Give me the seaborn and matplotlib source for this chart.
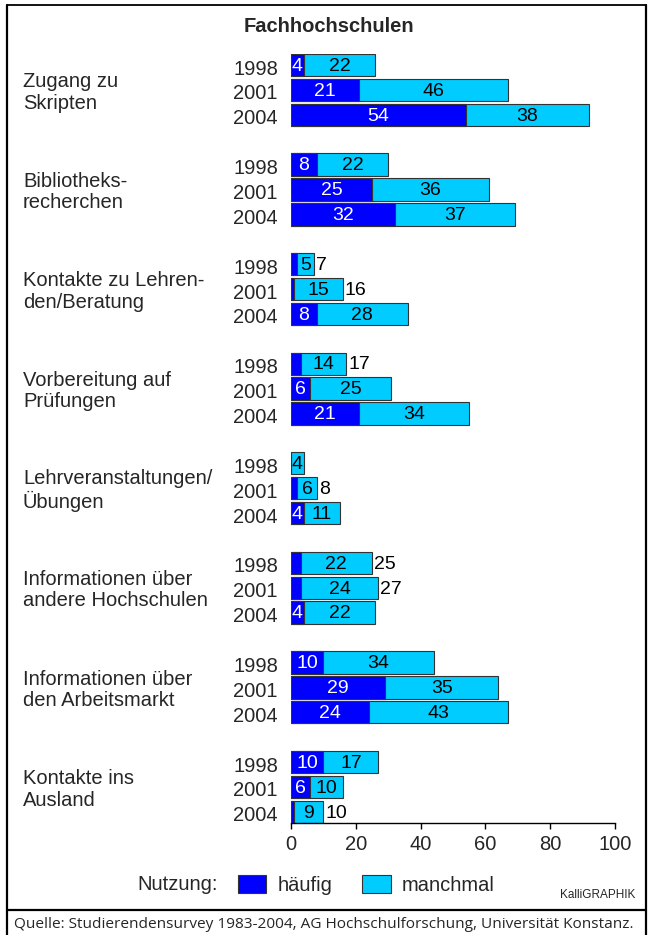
import pandas as pd
import matplotlib.pyplot as plt
import matplotlib.transforms as mtransforms
from matplotlib.lines import Line2D
from matplotlib.patches import Patch
import seaborn as sns

# values (percent)
categories = [
    "Zugang zu\nSkripten",
    "Bibliotheks-\nrecherchen",
    "Kontakte zu Lehren-\nden/Beratung",
    "Vorbereitung auf\nPrüfungen",
    "Lehrveranstaltungen/\nÜbungen",
    "Informationen über\nandere Hochschulen",
    "Informationen über\nden Arbeitsmarkt",
    "Kontakte ins\nAusland",
]
years = ["1998", "2001", "2004"]
haeufig = [
    [4, 21, 54],
    [8, 25, 32],
    [2, 1, 8],
    [3, 6, 21],
    [0, 2, 4],
    [3, 3, 4],
    [10, 29, 24],
    [10, 6, 1],
]
manchmal = [
    [22, 46, 38],
    [22, 36, 37],
    [5, 15, 28],
    [14, 25, 34],
    [4, 6, 11],
    [22, 24, 22],
    [34, 35, 43],
    [17, 10, 9],
]

BLUE = "#0000FF"
CYAN = "#00CCFF"
EDGE = "#333333"
FS = 14.5
FS_NUM = 14


def build_frame():
    rows = []
    for g, cat in enumerate(categories):
        for i, yr in enumerate(years):
            h = haeufig[g][i]
            m = manchmal[g][i]
            rows.append({"cat": cat, "year": yr, "pos": g * 4 + i,
                         "haeufig": h, "manchmal": m, "gesamt": h + m})
    return pd.DataFrame(rows)


def main():
    sns.set_style("white")
    plt.rcParams["font.family"] = ["Liberation Sans", "DejaVu Sans"]
    df = build_frame()

    fig = plt.figure(figsize=(6.51, 9.35), dpi=100)
    ax = fig.add_axes([291 / 651, (935 - 823) / 935, 324 / 651, 769.2 / 935])

    sns.barplot(data=df, x="gesamt", y="pos", orient="y", native_scale=True,
                color=CYAN, saturation=1, width=0.9, errorbar=None,
                edgecolor=EDGE, linewidth=0.8, ax=ax)
    sns.barplot(data=df, x="haeufig", y="pos", orient="y", native_scale=True,
                color=BLUE, saturation=1, width=0.9, errorbar=None,
                edgecolor=EDGE, linewidth=0.8, ax=ax)

    ax.set_xlim(0, 100)
    ax.set_ylim(30.45, -0.45)
    ax.set_xticks(range(0, 101, 20))
    ax.set_yticks(df["pos"], df["year"])
    ax.set_xlabel("")
    ax.set_ylabel("")
    for s in ["left", "right", "top"]:
        ax.spines[s].set_visible(False)
    ax.spines["bottom"].set_color("black")
    ax.spines["bottom"].set_linewidth(1)
    ax.tick_params(axis="x", direction="out", length=4, width=1, color="black",
                   labelsize=FS, pad=5, bottom=True)
    ax.tick_params(axis="y", length=0, labelsize=FS, pad=9.4)
    shift = mtransforms.ScaledTranslation(0, -2 / 100, fig.dpi_scale_trans)
    for lab in ax.get_yticklabels():
        lab.set_transform(lab.get_transform() + shift)

    for _, r in df.iterrows():
        h, m, p = r["haeufig"], r["manchmal"], r["pos"]
        if h >= 4:
            ax.text(h / 2, p + 0.05, str(h), ha="center", va="center",
                    color="white", fontsize=FS_NUM)
        ax.text(h + m / 2, p + 0.05, str(m), ha="center", va="center",
                color="black", fontsize=FS_NUM)
        if 0 < h < 4:
            ax.text(h + m + 0.6, p + 0.05, str(h + m), ha="left", va="center",
                    color="black", fontsize=FS_NUM)

    trans = mtransforms.blended_transform_factory(fig.transFigure, ax.transData)
    for g, cat in enumerate(categories):
        ax.text(23 / 651, g * 4 + 1.1, cat, transform=trans, ha="left",
                va="center", fontsize=FS, linespacing=1.15)

    fig.text(329 / 651, (935 - 27) / 935, "Fachhochschulen", ha="center",
             va="center", fontsize=FS, fontweight="bold")

    # legend
    fig.text(218 / 651, (935 - 885) / 935, "Nutzung:", ha="right", va="center",
             fontsize=FS)
    handles = [Patch(facecolor=BLUE, edgecolor=EDGE, linewidth=0.8, label="häufig"),
               Patch(facecolor=CYAN, edgecolor=EDGE, linewidth=0.8, label="manchmal")]
    fig.legend(handles=handles, loc="center left",
               bbox_to_anchor=(238 / 651, (935 - 885) / 935), ncol=2,
               frameon=False, fontsize=FS, borderpad=0, borderaxespad=0,
               handlelength=1.4, handleheight=1.0, handletextpad=0.55,
               columnspacing=1.5)
    fig.text(635 / 651, (935 - 895) / 935, "KalliGRAPHIK", ha="right",
             va="center", fontsize=8.5)

    fig.text(14.5 / 651, (935 - 924) / 935,
             "Quelle: Studierendensurvey 1983-2004, AG Hochschulforschung, Universität Konstanz.",
             ha="left", va="center", fontsize=11.1, family=["Open Sans", "DejaVu Sans"])

    # frame
    def fline(x0, y0, x1, y1, lw):
        fig.add_artist(Line2D([x0 / 651, x1 / 651], [1 - y0 / 935, 1 - y1 / 935],
                              color="black", linewidth=lw,
                              transform=fig.transFigure))
    fline(6.5, 5, 646, 5, 1.3)
    fline(6.5, 5, 6.5, 935, 1.6)
    fline(645.5, 5, 645.5, 935, 1.6)
    fline(6.5, 910, 646, 910, 1.6)

    fig.savefig("out.png", dpi=100)
    plt.close(fig)


if __name__ == "__main__":
    main()
